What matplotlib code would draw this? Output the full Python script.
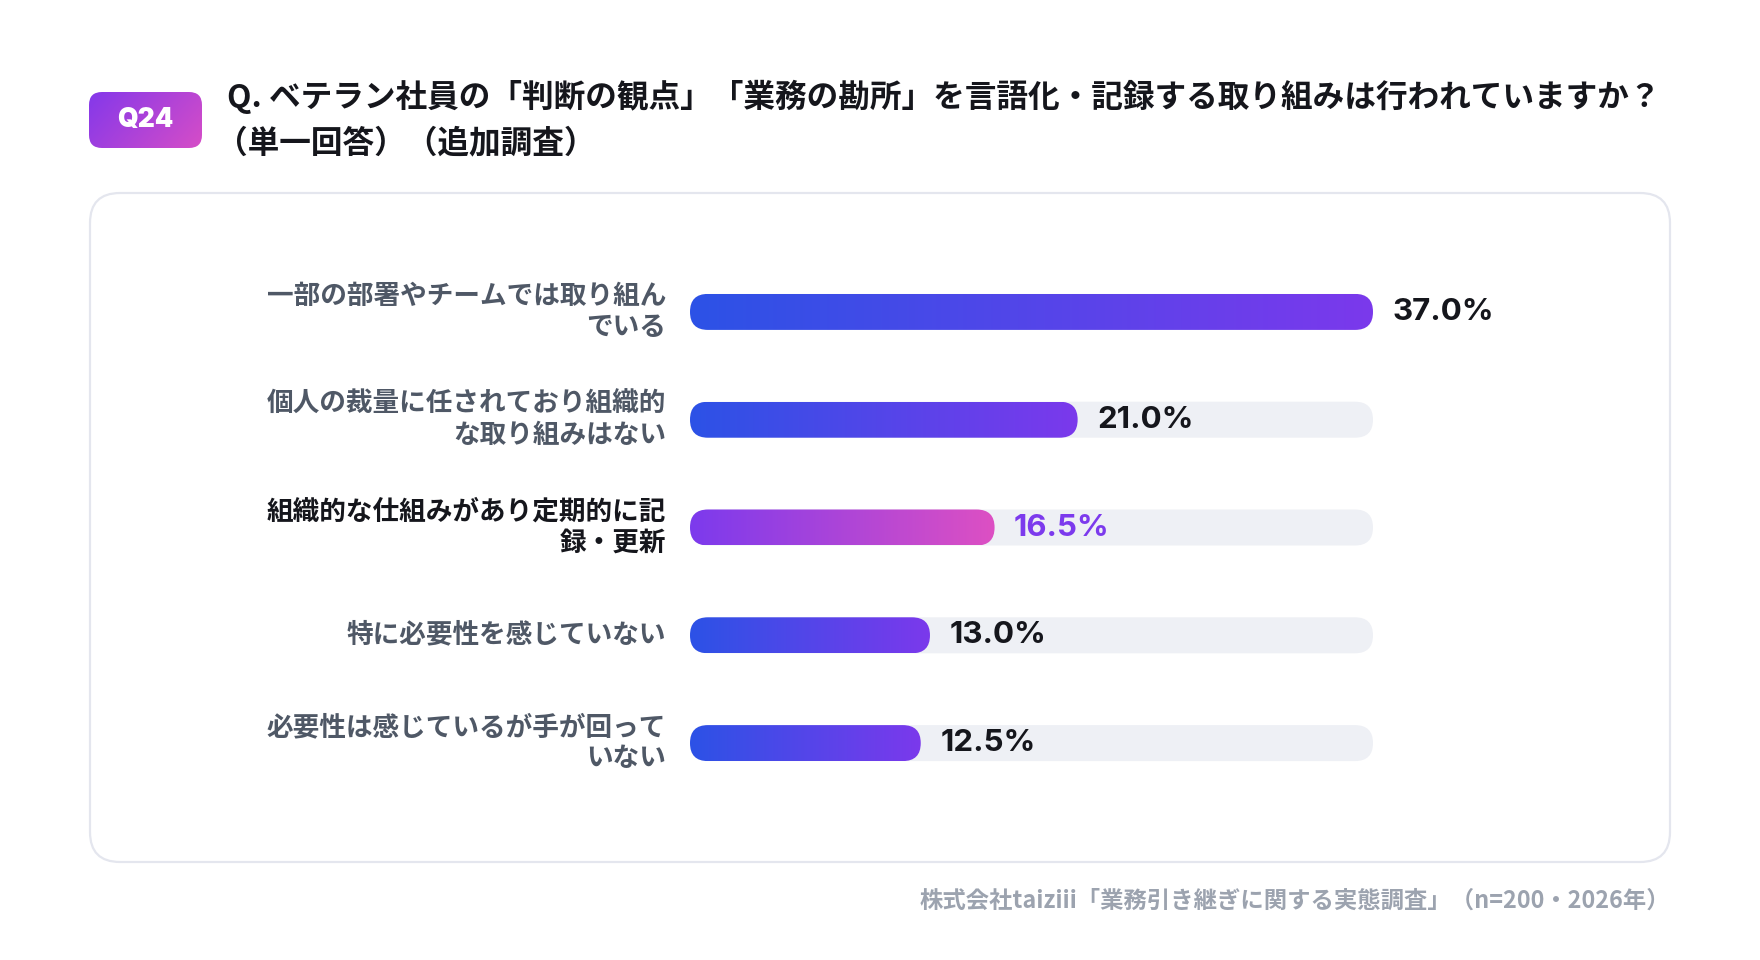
import numpy as np
import matplotlib
matplotlib.use("Agg")
import matplotlib.pyplot as plt
from matplotlib.patches import FancyBboxPatch
from matplotlib.colors import LinearSegmentedColormap

plt.rcParams['font.family'] = ['Noto Sans CJK JP', 'DejaVu Sans']

# --- data ---
categories = [
    "一部の部署やチームでは取り組ん\nでいる",
    "個人の裁量に任されており組織的\nな取り組みはない",
    "組織的な仕組みがあり定期的に記\n録・更新",
    "特に必要性を感じていない",
    "必要性は感じているが手が回って\nいない",
]
values = [37.0, 21.0, 16.5, 13.0, 12.5]
highlight = 2  # the emphasised answer

title_line1 = "Q. ベテラン社員の「判断の観点」「業務の勘所」を言語化・記録する取り組みは行われていますか？"
title_line2 = "（単一回答）（追加調査）"
badge_text = "Q24"
source_text = "株式会社taiziii「業務引き継ぎに関する実態調査」（n=200・2026年）"

# --- colours ---
TEXT_DARK = "#15161c"
LABEL_GRAY = "#4f5866"
TRACK = "#eef0f5"
BORDER = "#e4e6ee"
SOURCE_GRAY = "#9ca3af"
ACCENT = "#7c3aed"
blue_cmap = LinearSegmentedColormap.from_list("bluepurple", ["#2c52e6", "#7b39ec"])
pink_cmap = LinearSegmentedColormap.from_list("purplepink", ["#7c3aed", "#dd50c3"])
badge_cmap = LinearSegmentedColormap.from_list("badge", ["#8438ea", "#d64dc7"])

W, H = 1760, 960
fig = plt.figure(figsize=(W / 100, H / 100), dpi=100)
fig.patch.set_facecolor("white")

# background layer in pixel coordinates
bg = fig.add_axes([0, 0, 1, 1])
bg.set_xlim(0, W)
bg.set_ylim(H, 0)
bg.axis("off")

# badge
badge = FancyBboxPatch((89, 92), 113, 56, boxstyle="round,pad=0,rounding_size=13",
                       facecolor="none", edgecolor="none")
bg.add_patch(badge)
gx, gy = np.meshgrid(np.linspace(0, 1, 200), np.linspace(0, 1, 100))
bimg = bg.imshow(gx * 0.7 + gy * 0.3, cmap=badge_cmap, extent=(89, 202, 148, 92),
                 aspect="auto", zorder=2)
bimg.set_clip_path(badge)
bg.text(145.5, 120.5, badge_text, ha="center", va="center", color="white",
        fontsize=19, fontweight="black", family=["Inter", "DejaVu Sans"], zorder=3)

# title
bg.text(227, 97, title_line1, ha="left", va="center", fontsize=22.8,
        fontweight="bold", color=TEXT_DARK)
bg.text(216, 143, title_line2, ha="left", va="center", fontsize=22.8,
        fontweight="bold", color=TEXT_DARK)

# card
card = FancyBboxPatch((90, 193), 1580, 669, boxstyle="round,pad=0,rounding_size=30",
                      facecolor="white", edgecolor=BORDER, linewidth=1.6, zorder=1)
bg.add_patch(card)

# source note
bg.text(1670, 901, source_text, ha="right", va="center", fontsize=16.8,
        fontweight="bold", color=SOURCE_GRAY)

# --- bar axes ---
ax = fig.add_axes([690 / W, 1 - 797 / H, 683 / W, 539 / H])
ax.set_xlim(0, max(values))
ax.set_ylim(len(values) - 0.5, -0.5)
ax.axis("off")
ax.patch.set_alpha(0)

fig.canvas.draw()
# pixel size of one data unit in x and y, used to keep the rounded ends circular
p0 = ax.transData.transform((0, 0))
px_x = ax.transData.transform((1, 0))[0] - p0[0]
px_y = abs(ax.transData.transform((0, 1))[1] - p0[1])
bar_h = 36 / px_y
rad_x = (bar_h * px_y / 2) / px_x
aspect = px_x / px_y

grad = np.linspace(0, 1, 256).reshape(1, -1)
for i, (cat, v) in enumerate(zip(categories, values)):
    # track
    track = FancyBboxPatch((0, i - bar_h / 2), max(values), bar_h,
                           boxstyle=f"round,pad=0,rounding_size={rad_x}",
                           mutation_aspect=aspect,
                           facecolor=TRACK, edgecolor="none", zorder=1)
    ax.add_patch(track)
    # value bar with gradient
    bar = FancyBboxPatch((0, i - bar_h / 2), v, bar_h,
                         boxstyle=f"round,pad=0,rounding_size={rad_x}",
                         mutation_aspect=aspect,
                         facecolor="none", edgecolor="none", zorder=2)
    ax.add_patch(bar)
    cmap = pink_cmap if i == highlight else blue_cmap
    im = ax.imshow(grad, cmap=cmap, extent=(0, v, i + bar_h / 2, i - bar_h / 2),
                   aspect="auto", zorder=2, interpolation="bilinear")
    im.set_clip_path(bar)

    # value label
    ax.annotate(f"{v:.1f}%", xy=(v, i), xytext=(14, 0), textcoords="offset points",
                ha="left", va="center", fontsize=22.5, fontweight="bold",
                family=["Inter", "DejaVu Sans"],
                color=ACCENT if i == highlight else TEXT_DARK)

    # category label
    ax.text(-24 / px_x, i, cat, ha="right", va="center", ma="right",
            fontsize=19.2, linespacing=1.2,
            fontweight="bold",
            color=TEXT_DARK if i == highlight else LABEL_GRAY,
            clip_on=False)

ax.set_xlim(0, max(values))
ax.set_ylim(len(values) - 0.5, -0.5)

fig.savefig("out.png", dpi=100, facecolor="white")
